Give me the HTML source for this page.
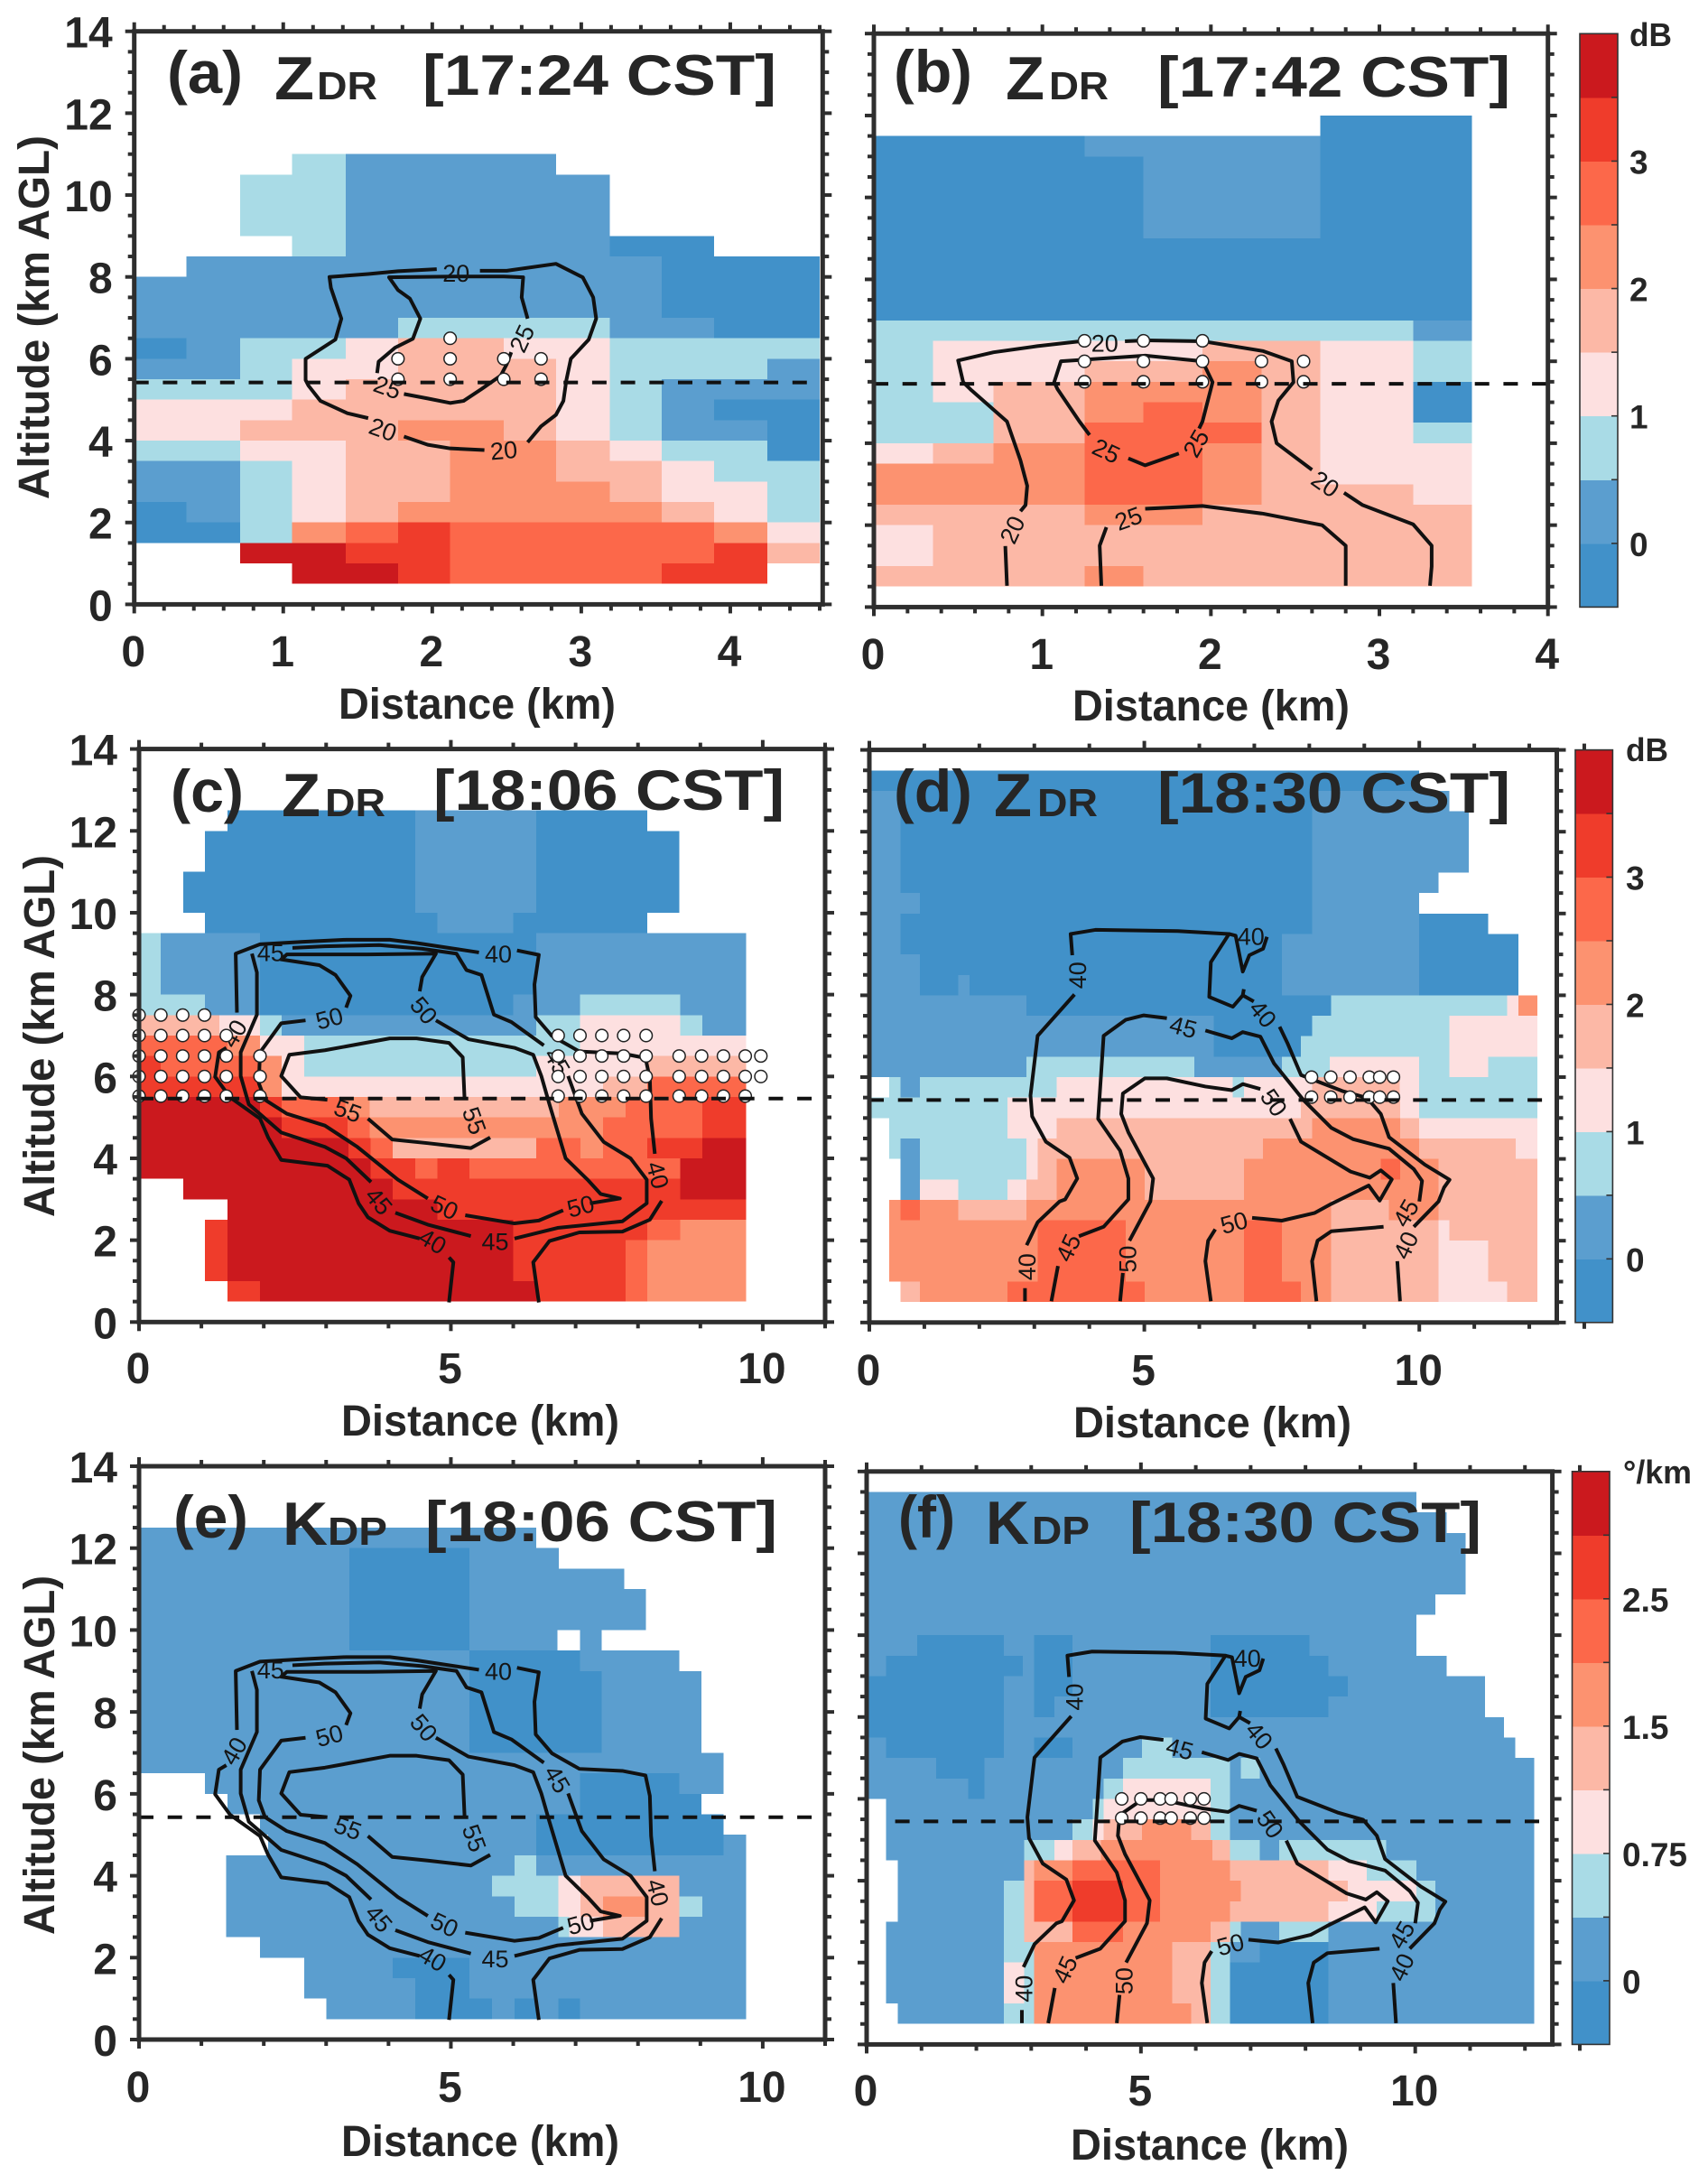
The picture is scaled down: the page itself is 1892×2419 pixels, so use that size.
<!DOCTYPE html>
<html lang="en">
<head>
<meta charset="utf-8">
<title>Radar cross-sections: ZDR and KDP</title>
<style>
html,body{margin:0;padding:0;background:#fff;}
svg{display:block;font-family:"Liberation Sans",Arial,sans-serif;}
.t{font-weight:bold;fill:#262626;}
</style>
</head>
<body>
<svg id="figure" xmlns="http://www.w3.org/2000/svg" width="1892" height="2419" viewBox="0 0 1892 2419">
<rect x="0" y="0" width="1892" height="2419" fill="#fff"/>

<g>
<g id="plot-a"></g>
<text class="t" x="185" y="103" font-size="66" textLength="84" lengthAdjust="spacingAndGlyphs">(a)</text>
<text class="t" x="304" y="110" font-size="68" textLength="44" lengthAdjust="spacingAndGlyphs">Z</text>
<text class="t" x="351" y="110" font-size="44" textLength="67" lengthAdjust="spacingAndGlyphs">DR</text>
<text class="t" x="468" y="105" font-size="63" textLength="392" lengthAdjust="spacingAndGlyphs">[17:24 CST]</text>
<text class="t" x="375" y="796" font-size="48" textLength="307" lengthAdjust="spacingAndGlyphs">Distance (km)</text>
<text class="t" transform="translate(54,553) rotate(-90)" font-size="48" textLength="403" lengthAdjust="spacingAndGlyphs">Altitude (km AGL)</text>
</g>

<g>
<g id="plot-b"></g>
<text class="t" x="990" y="102" font-size="66" textLength="87" lengthAdjust="spacingAndGlyphs">(b)</text>
<text class="t" x="1114" y="110" font-size="68" textLength="43" lengthAdjust="spacingAndGlyphs">Z</text>
<text class="t" x="1162" y="110" font-size="44" textLength="66" lengthAdjust="spacingAndGlyphs">DR</text>
<text class="t" x="1282" y="107" font-size="63" textLength="391" lengthAdjust="spacingAndGlyphs">[17:42 CST]</text>
<text class="t" x="1188" y="798" font-size="48" textLength="307" lengthAdjust="spacingAndGlyphs">Distance (km)</text>
</g>

<g>
<g id="plot-c"></g>
<text class="t" x="189" y="899" font-size="66" textLength="81" lengthAdjust="spacingAndGlyphs">(c)</text>
<text class="t" x="312" y="904" font-size="68" textLength="43" lengthAdjust="spacingAndGlyphs">Z</text>
<text class="t" x="360" y="904" font-size="44" textLength="67" lengthAdjust="spacingAndGlyphs">DR</text>
<text class="t" x="480" y="897" font-size="63" textLength="389" lengthAdjust="spacingAndGlyphs">[18:06 CST]</text>
<text class="t" x="378" y="1590" font-size="48" textLength="308" lengthAdjust="spacingAndGlyphs">Distance (km)</text>
<text class="t" transform="translate(60,1348) rotate(-90)" font-size="48" textLength="401" lengthAdjust="spacingAndGlyphs">Altitude (km AGL)</text>
</g>

<g>
<g id="plot-d"></g>
<text class="t" x="990" y="899" font-size="66" textLength="87" lengthAdjust="spacingAndGlyphs">(d)</text>
<text class="t" x="1101" y="904" font-size="68" textLength="42" lengthAdjust="spacingAndGlyphs">Z</text>
<text class="t" x="1149" y="904" font-size="44" textLength="67" lengthAdjust="spacingAndGlyphs">DR</text>
<text class="t" x="1282" y="900" font-size="63" textLength="391" lengthAdjust="spacingAndGlyphs">[18:30 CST]</text>
<text class="t" x="1189" y="1592" font-size="48" textLength="308" lengthAdjust="spacingAndGlyphs">Distance (km)</text>
</g>

<g>
<g id="plot-e"></g>
<text class="t" x="192" y="1703" font-size="66" textLength="83" lengthAdjust="spacingAndGlyphs">(e)</text>
<text class="t" x="313" y="1711" font-size="68" textLength="50" lengthAdjust="spacingAndGlyphs">K</text>
<text class="t" x="363" y="1711" font-size="44" textLength="66" lengthAdjust="spacingAndGlyphs">DP</text>
<text class="t" x="471" y="1707" font-size="63" textLength="390" lengthAdjust="spacingAndGlyphs">[18:06 CST]</text>
<text class="t" x="378" y="2388" font-size="48" textLength="308" lengthAdjust="spacingAndGlyphs">Distance (km)</text>
<text class="t" transform="translate(60,2143) rotate(-90)" font-size="48" textLength="398" lengthAdjust="spacingAndGlyphs">Altitude (km AGL)</text>
</g>

<g>
<g id="plot-f"></g>
<text class="t" x="995" y="1703" font-size="66" textLength="63" lengthAdjust="spacingAndGlyphs">(f)</text>
<text class="t" x="1092" y="1710" font-size="68" textLength="48" lengthAdjust="spacingAndGlyphs">K</text>
<text class="t" x="1143" y="1710" font-size="44" textLength="64" lengthAdjust="spacingAndGlyphs">DP</text>
<text class="t" x="1251" y="1708" font-size="63" textLength="390" lengthAdjust="spacingAndGlyphs">[18:30 CST]</text>
<text class="t" x="1186" y="2392" font-size="48" textLength="308" lengthAdjust="spacingAndGlyphs">Distance (km)</text>
</g>

<g id="bars"></g>
<text class="t" x="1805" y="51" font-size="36" textLength="47" lengthAdjust="spacingAndGlyphs">dB</text>
<text class="t" x="1801" y="843" font-size="36" textLength="47" lengthAdjust="spacingAndGlyphs">dB</text>
<text class="t" x="1798" y="1643" font-size="36" textLength="76" lengthAdjust="spacingAndGlyphs">°/km</text>
</svg>

<script>
// Colour levels, lowest to highest
const colorLevels = ['#4191c9','#5b9ecf','#a9dbe6','#fde0e0','#fcb8a6','#fc9270','#fc684a','#ef3c2b','#cb191e'];

// Colorbar labels
const zdrBarLabels = ['0','1','2','3'];
const kdpBarLabels = ['0','0.75','1.5','2.5'];
const barLabelBoundary = [1,3,5,7];

// Axis ticks
const altitudeTicks = [0,2,4,6,8,10,12,14];
const distanceTicksA = [0,1,2,3,4];
const distanceTicksB = [0,1,2,3,4];
const distanceTicksWide = [0,5,10];

// Height of the 0 °C level (km)
const meltingLevelA = 5.42;
const meltingLevelB = 5.45;
const meltingLevelC = 5.46;
const meltingLevelD = 5.44;
const meltingLevelE = 5.43;
const meltingLevelF = 5.45;

// Cell rows: [bottom altitude km, x0, level, x1, level, ... xEnd]; level -1 = no echo
const cellsA = [
[10.5,1.06,2,1.42,1,2.83],
[10,.71,2,1.42,1,3.19],
[9.5,.71,2,1.42,1,3.19],
[9,.71,2,1.42,1,3.19],
[8.5,1.06,2,1.42,1,3.19,0,3.89],
[8,.35,1,3.54,0,4.6],
[7.5,0,1,3.54,0,4.6],
[7,0,1,3.54,0,4.6],
[6.5,0,1,1.77,2,3.19,1,3.89,0,4.6],
[6,0,0,.35,1,.71,2,1.42,3,1.77,4,2.48,3,3.19,2,4.6],
[5.5,0,1,.71,2,1.06,3,1.77,4,2.83,3,3.19,2,4.25,1,4.6],
[5,0,2,1.06,3,1.42,4,2.83,3,3.19,2,3.54,1,4.6],
[4.5,0,3,1.06,4,2.83,3,3.19,2,3.54,1,3.89,0,4.6],
[4,0,3,.71,4,1.77,5,2.48,4,2.83,3,3.19,2,3.54,1,4.25,0,4.6],
[3.5,0,2,.71,3,1.42,4,2.12,5,2.83,4,3.19,3,3.54,2,4.25,0,4.6],
[3,0,1,.71,2,1.06,3,1.42,4,2.12,5,2.83,4,3.54,3,3.89,2,4.6],
[2.5,0,1,.71,2,1.06,3,1.42,4,2.12,5,3.19,4,3.54,3,4.25,2,4.6],
[2,0,0,.35,1,.71,2,1.06,3,1.42,4,1.77,5,3.54,4,3.89,3,4.25,2,4.6],
[1.5,0,0,.71,2,1.06,5,1.42,6,1.77,7,2.12,6,3.89,5,4.25,3,4.6],
[1,.71,8,1.42,7,2.12,6,3.89,7,4.25,4,4.6],
[.5,1.06,8,1.77,7,2.12,6,3.54,7,4.25]
];
const cellsB = [
[11.5,2.65,0,3.55],
[11,0,0,1.25,1,2.65,0,3.55],
[10.5,0,0,1.6,1,2.65,0,3.55],
[10,0,0,1.6,1,2.65,0,3.55],
[9.5,0,0,1.6,1,2.65,0,3.55],
[9,0,0,1.6,1,2.65,0,3.55],
[8.5,0,0,3.55],
[8,0,0,3.55],
[7.5,0,0,3.55],
[7,0,0,3.55],
[6.5,0,2,3.2,1,3.55],
[6,0,2,.35,3,1.95,4,2.65,3,3.2,2,3.55],
[5.5,0,2,.35,3,1.25,4,1.95,5,2.3,4,2.65,3,3.2,2,3.55],
[5,0,2,.35,3,.71,4,1.25,5,2.3,4,2.65,3,3.2,0,3.55],
[4.5,0,2,.71,4,1.25,5,1.6,6,1.95,5,2.3,4,2.65,3,3.2,0,3.55],
[4,0,2,.71,4,1.25,6,2.3,4,2.65,3,3.2,2,3.55],
[3.5,0,3,.35,4,.71,5,1.25,6,1.95,5,2.3,4,2.65,3,3.55],
[3,0,5,1.25,6,1.95,5,2.3,4,2.65,3,3.55],
[2.5,0,5,1.25,6,1.95,5,2.3,4,3.2,3,3.55],
[2,0,4,1.25,5,1.95,4,3.55],
[1.5,0,3,.35,4,3.55],
[1,0,3,.35,4,3.55],
[.5,0,4,1.25,5,1.6,4,3.55]
];
const cellsC = [
[12,1.42,0,4.43,1,6.37,0,8.15],
[11.5,1.06,0,4.43,1,6.37,0,8.66],
[11,1.06,0,4.43,1,6.37,0,8.66],
[10.5,.71,0,4.43,1,6.37,0,8.66],
[10,.71,0,4.43,1,6.37,0,8.66],
[9.5,1.06,0,4.78,1,6,0,8.15],
[9,0,2,.35,1,1.94,0,6.37,1,9.73],
[8.5,0,2,.35,1,1.94,0,6.37,1,9.73],
[8,0,2,.35,1,1.94,0,6.37,1,9.73],
[7.5,0,2,1.06,1,1.94,0,6,1,7.07,2,8.68,1,9.73],
[7,0,4,1.29,3,1.94,2,2.29,1,6.37,2,7.07,3,8.68,2,9.03,1,9.73],
[6.5,0,6,1.42,5,1.94,3,2.65,2,7.07,3,9.73],
[6,0,7,.35,6,1.94,5,2.29,3,2.65,2,6.37,3,8.15,4,9.73],
[5.5,0,7,1.94,5,2.29,3,7.44,4,8.15,6,9.73],
[5,0,8,1.94,7,2.29,6,3.31,5,3.7,4,6.73,5,7.8,6,9.03,7,9.73],
[4.5,0,8,2.29,7,3.34,6,3.7,5,7.44,6,9.03,7,9.73],
[4,0,8,3.36,7,3.71,6,4.07,4,6.37,6,7.08,5,7.44,6,8.15,7,9.03,8,9.73],
[3.5,0,8,3.71,7,4.43,6,4.78,7,5.3,6,8.68,8,9.73],
[3,.71,8,4.07,7,8.68,8,9.73],
[2.5,1.42,8,4.78,7,9.73],
[2,1.06,7,1.42,8,6,7,8.15,6,8.68,5,9.73],
[1.5,1.06,7,1.42,8,6,7,7.8,6,8.15,5,9.73],
[1,1.06,7,1.42,8,6,7,7.8,6,8.15,5,9.73],
[.5,1.42,7,1.94,8,6.37,7,7.8,6,8.15,5,9.73]
];
const cellsD = [
[13,0,0,10],
[12.5,0,1,.57,0,8.05,1,10.55],
[12,0,1,.57,0,8.05,1,10.9],
[11.5,0,1,.57,0,8.05,1,10.9],
[11,0,1,.57,0,8.05,1,10.9],
[10.5,0,1,.57,0,8.05,1,10.35],
[10,0,1,.92,0,8.05,1,10],
[9.5,0,1,.57,0,8.05,1,10,0,11.25],
[9,0,1,.57,0,7.5,1,10,0,11.8],
[8.5,0,1,.92,0,7.5,1,10,0,11.8],
[8,0,1,.92,0,1.62,1,1.82,0,7.5,1,10,0,11.8],
[7.5,0,1,2.86,0,8.4,2,11.6,3,11.8,5,12.15],
[7,0,1,6.26,0,8.05,2,10.55,3,12.15],
[6.5,0,1,6.26,0,7.85,2,10.55,3,12.15],
[6,0,1,2.86,2,5.91,1,7.5,2,8.37,3,10,2,10.55,3,11.25,2,12.15],
[5.5,.36,2,.57,1,.92,2,3.41,3,6.61,2,6.81,3,8.05,4,9.64,3,10,2,12.15],
[5,0,2,2.51,3,7.85,4,9.65,3,10,2,12.15],
[4.5,.36,2,2.51,3,3.41,4,8.05,5,9.65,4,10,3,12.15],
[4,.36,2,.57,1,.92,2,2.86,3,3.06,4,7.16,5,10,4,11.75,3,12.15],
[3.5,.57,1,.92,2,2.86,3,3.06,4,3.41,5,5.01,4,6.81,5,9.3,6,9.65,5,10.35,4,12.15],
[3,.57,1,.92,3,1.62,2,2.51,3,2.86,4,3.41,5,5.01,4,6.81,5,10.35,4,12.15],
[2.5,.36,5,.57,6,.92,5,1.62,4,2.86,5,8.4,4,9.45,5,10.35,4,12.15],
[2,.36,5,3.06,6,4.66,5,6.81,6,7.5,5,8.4,4,10.35,3,10.55,4,12.15],
[1.5,.36,5,3.06,6,4.66,5,6.81,6,7.5,5,8.4,4,10.35,3,11.25,4,12.15],
[1,.36,5,3.06,6,4.66,5,6.81,6,7.5,5,8.4,4,10.35,3,11.25,4,12.15],
[.5,.57,4,.92,5,2.51,6,5.01,5,6.81,6,7.85,5,8.4,4,10.35,3,11.6,4,12.15]
];
const cellsE = [
[12,0,1,6.37],
[11.5,0,1,3.37,0,5.3,1,6.73],
[11,0,1,3.37,0,5.3,1,7.78],
[10.5,0,1,3.37,0,5.3,1,8.13],
[10,0,1,3.37,0,5.3,1,8.13],
[9.5,0,1,3.37,0,5.3,1,6.71,-1,7.07,1,7.42],
[9,0,1,5.3,0,7.07,1,8.66],
[8.5,0,1,5.3,0,7.42,1,9.02],
[8,0,1,5.3,0,7.42,1,9.02],
[7.5,0,1,5.3,0,7.42,1,9.02],
[7,0,1,5.3,0,7.42,1,9.02],
[6.5,0,1,9.37],
[6,1.06,1,7.07,0,8.66,1,9.37],
[5.5,1.42,1,7.07,0,9.02],
[5,1.94,1,6.37,0,9.37],
[4.5,2.07,1,6.37,0,9.37,1,9.73],
[4,1.4,1,6.02,2,6.37,1,9.73],
[3.5,1.4,1,5.66,2,6.72,3,7.08,4,8.66,1,9.73],
[3,1.4,1,6.02,2,6.72,3,7.08,4,7.44,5,8.15,4,8.66,2,9.03,1,9.73],
[2.5,1.4,1,6.72,2,6.9,3,7.44,4,8.66,1,9.73],
[2,1.94,1,9.73],
[1.5,2.65,1,4.07,0,5.3,1,9.73],
[1,2.65,1,4.43,0,5.3,1,9.73],
[.5,3,1,4.43,0,5.66,1,6.02,0,6.37,1,6.72,0,7.07,1,9.73]
];
const cellsF = [
[13,0,1,10.02],
[12.5,0,1,10.57],
[12,0,1,10.92],
[11.5,0,1,10.92],
[11,0,1,10.92],
[10.5,0,1,10.37],
[10,0,1,10.02],
[9.5,0,1,.92,0,2.5,1,3.05,0,3.75,1,6.27,0,8.07,1,10.02],
[9,0,1,.35,0,2.85,1,3.05,0,3.75,1,6.27,0,8.42,1,10.57],
[8.5,0,0,2.5,1,3.05,0,3.75,1,6.27,0,8.77,1,11.27],
[8,0,0,2.5,1,3.05,0,3.42,1,6.27,0,8.42,1,11.27],
[7.5,0,0,2.5,1,11.62],
[7,0,1,.35,0,2.5,1,3.05,0,3.75,1,5.02,2,5.57,1,11.82],
[6.5,0,1,1.27,0,2.15,1,4.67,2,6.62,1,6.82,2,7.17,1,12.17],
[6,0,1,1.85,0,2.15,1,4.32,2,4.67,3,6.27,2,6.62,1,12.17],
[5.5,.35,1,4.12,2,4.32,3,6.27,2,6.62,1,12.17],
[5,.35,1,3.75,2,4.12,3,4.32,4,5.02,5,5.92,4,6.27,2,6.62,1,12.17],
[4.5,.35,1,2.87,2,3.42,3,3.75,4,4.27,5,6.3,4,6.62,2,7.17,1,7.52,2,9.47,1,12.17],
[4,.57,1,2.87,4,3.05,5,3.75,6,5.35,5,6.62,4,8.42,3,9.12,2,10.02,1,12.17],
[3.5,.57,1,2.5,2,2.87,4,3.05,6,3.75,7,4.67,6,5.35,5,6.82,4,8.77,3,10.02,2,10.37,1,12.17],
[3,.57,1,2.5,2,2.87,4,3.05,6,3.75,7,4.67,6,5.35,5,6.62,4,8.42,3,9.3,2,10.37,1,12.17],
[2.5,.35,1,2.5,2,2.87,4,3.75,6,4.67,5,6.27,4,6.62,2,6.82,1,7.52,2,8.42,1,12.17],
[2,.35,1,2.5,2,3.05,5,5.57,4,6.27,2,6.62,1,7.17,0,8.42,1,12.17],
[1.5,.35,1,2.5,3,2.87,2,3.05,5,5.57,4,6.27,2,6.62,0,8.42,1,12.17],
[1,.35,1,2.5,3,2.87,2,3.05,5,5.57,4,6.27,2,6.62,0,8.42,1,12.17],
[.5,.57,1,2.5,2,3.05,5,5.92,4,6.27,2,6.62,0,8.42,1,12.17]
];

// Reflectivity contour segments: lists of [distance km, altitude km]
const contoursA = [
[[2.32,8.15],[2.5,8.15],[2.83,8.32],[3.01,7.99],[3.08,7.5],[3.1,6.98],[3.05,6.47],[2.93,6],[2.9,5.48],[2.88,4.97],[2.83,4.63],[2.73,4.35],[2.64,3.96]],
[[2.35,3.77],[2.12,3.81],[1.97,3.9],[1.81,4.1]],
[[1.57,4.55],[1.43,4.67],[1.25,4.97],[1.17,5.34],[1.15,5.48],[1.15,6],[1.35,6.47],[1.39,6.98],[1.32,7.73],[1.31,8],[1.57,8.07],[1.77,8.14],[2.03,8.19]],
[[2.64,6.98],[2.6,7.5],[2.61,7.99],[2.48,8.01],[2.15,8.01],[1.71,7.99],[1.77,7.68],[1.85,7.47],[1.92,6.98],[1.87,6.49],[1.75,6.27],[1.64,5.93],[1.63,5.65]],
[[1.81,5.14],[1.97,5.03],[2.12,4.92],[2.21,4.97],[2.33,5.26],[2.46,5.59],[2.5,5.87],[2.53,6.16]]
];
const contourLabelsA = [['20',2.16,8.1,0],['20',1.67,4.28,20],['20',2.48,3.77,-5],['25',1.7,5.31,20],['25',2.6,6.5,-65]];
const contoursB = [
[[1.49,6.49],[1.61,6.51],[1.95,6.49],[2.31,6.25],[2.48,6],[2.49,5.49],[2.4,5.04],[2.36,4.53],[2.39,4],[2.6,3.35]],
[[2.79,2.79],[2.9,2.49],[3.2,2.02],[3.31,1.5],[3.31,.99],[3.3,.52]],
[[1.25,6.5],[.97,6.37],[.71,6.22],[.5,6.02],[.53,5.49],[.58,5.29],[.79,4.53],[.87,3.58],[.91,2.96],[.9,2.49],[.87,2.34]],
[[.78,1.49],[.79,.52]],
[[1.93,4.36],[1.95,4.53],[2.01,5.49],[1.95,6],[1.61,6.14],[1.11,6],[1.07,5.49],[1.09,5.32],[1.22,4.53],[1.28,4.2]],
[[1.81,3.75],[1.61,3.46],[1.51,3.63]],
[[1.35,.52],[1.34,1.5],[1.38,1.95]],
[[1.61,2.4],[1.95,2.47],[2.31,2.28],[2.66,2],[2.8,1.5],[2.8,.52]]
];
const contourLabelsB = [['20',1.37,6.45,0],['20',2.68,3.01,35],['20',.82,1.89,-65],['25',1.91,4,-60],['25',1.38,3.82,25],['25',1.51,2.17,-20]];
const contoursCE = [
[[6.06,9.08],[6.41,8.97],[6.34,8.25],[6.36,7.45],[6.62,6.99],[7.06,6.61],[7.75,6.56],[8.12,6.45],[8.19,5.95],[8.21,4.97],[8.27,4.11]],
[[8.38,2.96],[8.19,2.5],[7.75,2.21],[7.06,2.19],[6.58,1.98],[6.32,1.46],[6.41,.48]],
[[4.97,.48],[5.04,1.46],[4.97,1.58]],
[[4.5,2.04],[4.02,2.23],[3.67,2.56],[3.52,2.9],[3.37,3.48],[3.02,3.82],[2.28,3.96],[2.07,4.51],[1.94,4.97],[1.46,5.49],[1.22,5.99],[1.28,6.59],[1.4,6.7]],
[[1.57,7.56],[1.55,9],[1.94,9.23],[2.63,9.29],[3.32,9.34],[4.02,9.34],[4.45,9.26],[5.06,9.12],[5.45,9.03]],
[[6.49,6.76],[5.97,7.33],[5.69,7.51],[5.49,8.48],[5.25,8.6],[5.09,9],[4.54,9.12],[3.85,9.21],[2.98,9.18],[2.46,9.14]],
[[1.81,9],[1.89,8.54],[1.89,7.51],[1.63,6.59],[1.63,6.01],[1.76,5.32],[2.28,4.63],[2.98,4.28],[3.32,4],[3.72,3.42]],
[[4.11,2.67],[4.63,2.38],[5.32,2.1]],
[[6.02,2.04],[6.71,2.3],[7.75,2.46],[8.14,2.9],[8.14,3.48],[7.88,4],[7.45,4.4],[7.1,5.09],[6.88,6.01]],
[[4.76,7.37],[5.28,6.91],[6.02,6.7],[6.32,6.53],[6.45,6.01],[6.58,5.32],[6.84,4],[7.19,3.48],[7.4,3.13],[7.71,3.02],[7.23,2.9]],
[[6.8,2.73],[6.41,2.48],[6.02,2.41],[5.23,2.61]],
[[4.63,3.02],[4.15,3.48],[3.5,4.28],[2.98,4.8],[2.37,5.09],[2.02,5.43],[1.92,5.84],[1.94,6.59],[2.28,7.3],[2.67,7.37]],
[[3.32,7.68],[3.39,7.97],[3.15,8.48],[2.89,8.72],[2.28,8.86],[2.37,8.98],[3.67,8.98],[4.76,9],[4.54,8.43],[4.5,8.08]],
[[5.22,5.43],[5.19,6.47],[4.97,6.82],[4.45,6.93],[4.02,6.93],[2.98,6.64],[2.41,6.53],[2.28,6.01],[2.59,5.49],[3.02,5.43]],
[[3.67,4.97],[4.06,4.46],[4.63,4.37],[5.32,4.25],[5.63,4.51]]
];
const contourLabelsCE = [['40',8.32,3.59,75],['40',4.71,1.98,30],['40',1.52,7.05,-60],['40',5.76,9,0],['45',2.11,9.03,0],['45',3.85,2.96,50],['45',5.71,1.98,0],['45',6.71,6.36,60],['50',7.08,2.84,-15],['50',4.9,2.81,25],['50',3.05,7.43,-15],['50',4.57,7.62,50],['55',3.35,5.17,20],['55',5.38,4.92,70]];
const contoursDF = [
[[2.83,.52],[2.83,.84]],
[[2.86,1.89],[3.06,2.45],[3.46,2.96],[3.56,3.01],[3.78,3.52],[3.64,4.03],[3.21,4.42],[2.96,5.04],[2.93,5.55],[3.06,7.01],[3.73,8.02]],
[[3.69,8.98],[3.66,9.5],[4.11,9.6],[5.61,9.57],[6.54,9.5],[6.21,8.81],[6.18,7.96],[6.61,7.72],[6.79,8],[6.81,8.15]],
[[6.79,8],[6.99,7.85]],
[[6.54,9.5],[6.66,9.46],[6.79,8.58],[6.91,8.98],[7.16,9.14],[7.23,9.43]],
[[7.46,7.23],[7.6,6.84],[7.85,6.05],[8.6,5.66],[9.05,5.49],[9.3,5.1],[9.45,4.53],[10.1,3.86],[10.55,3.49],[10.45,3.3],[10.35,2.96],[9.9,2.34]],
[[9.6,1.5],[9.65,.52]],
[[3.31,.52],[3.43,1.38]],
[[3.81,2.11],[4.26,2.34],[4.71,3.01],[4.71,3.52],[4.56,4.2],[4.16,4.98],[4.26,7.01],[4.66,7.4],[4.99,7.51],[5.41,7.44]],
[[6.11,7.14],[6.59,6.95],[6.79,7.1],[7.11,6.99],[7.36,6.33],[7.9,5.43],[8.4,4.76],[8.8,4.48],[9.45,4.25],[9.9,3.75],[10.05,3.46],[10,2.96]],
[[9.35,2.34],[8.4,2.23],[8.15,2],[8.05,1.5],[8.13,.52]],
[[4.56,.52],[4.61,1.21]],
[[4.73,2],[5.11,2.96],[5.16,3.52],[4.71,4.65],[4.58,5.1],[4.61,5.6],[5.01,5.97],[5.41,5.97],[6.11,5.77],[6.59,5.68],[6.79,5.83],[7.11,5.71]],
[[7.65,4.98],[7.85,4.42],[8.75,3.69],[9.1,3.54],[9.3,3.72],[9.5,3.5],[9.28,2.98],[9.08,3.35],[8.75,3.13],[8.4,2.9],[8.1,2.68],[7.5,2.49],[6.96,2.56]],
[[6.29,2.28],[6.16,2],[6.11,1.5],[6.21,.52]]
];
const contourLabelsDF = [['40',2.86,1.36,-90],['40',3.78,8.49,-90],['40',6.94,9.45,0],['40',7.16,7.55,50],['40',9.75,1.89,-65],['45',3.61,1.83,-65],['45',5.71,7.23,15],['45',9.75,2.68,-60],['50',4.69,1.55,-90],['50',7.36,5.38,55],['50',6.63,2.45,-15]];

// Marked grid points (white circles): [distance km, altitude km]
const dotsA = [[1.77,6],[1.77,5.5],[2.12,6.5],[2.12,6],[2.12,5.5],[2.48,6],[2.48,5.5],[2.73,6],[2.73,5.5]];
const dotsB = [[1.25,6.5],[1.6,6.5],[1.95,6.5],[1.25,6],[1.6,6],[1.95,6],[2.3,6],[2.55,6],[1.25,5.5],[1.6,5.5],[1.95,5.5],[2.3,5.5],[2.55,5.5]];
const dotsC = [
[0,7.5],[.35,7.5],[.7,7.5],[1.05,7.5],
[0,7],[.35,7],[.7,7],[1.05,7],[1.4,7],
[0,6.5],[.35,6.5],[.7,6.5],[1.05,6.5],[1.4,6.5],[1.94,6.5],
[0,6],[.35,6],[.7,6],[1.05,6],[1.4,6],[1.94,6],
[0,5.52],[.35,5.52],[.7,5.52],[1.05,5.52],[1.4,5.52],[1.94,5.52],
[6.72,7],[7.07,7],[7.42,7],[7.77,7],[8.13,7],
[6.72,6.5],[7.07,6.5],[7.42,6.5],[7.77,6.5],[8.13,6.5],[8.66,6.5],[9.02,6.5],[9.37,6.5],[9.72,6.5],[9.97,6.5],
[6.72,6],[7.07,6],[7.42,6],[7.77,6],[8.13,6],[8.66,6],[9.02,6],[9.37,6],[9.72,6],[9.97,6],
[6.72,5.52],[7.07,5.52],[7.42,5.52],[7.77,5.52],[8.13,5.52],[8.66,5.52],[9.02,5.52],[9.37,5.52],[9.72,5.52]
];
const dotsD = [[8.04,6],[8.39,6],[8.74,6],[9.09,6],[9.28,6],[9.53,6],[8.04,5.51],[8.39,5.51],[8.74,5.51],[9.09,5.51],[9.28,5.51],[9.53,5.51]];
const dotsE = [];
const dotsF = [[4.65,6],[5,6],[5.35,6],[5.55,6],[5.9,6],[6.15,6],[4.65,5.53],[5,5.53],[5.35,5.53],[5.55,5.53],[5.9,5.53],[6.15,5.53]];

const NS = 'http://www.w3.org/2000/svg';
const INK = '#2e2e2e';
function add(parent, tag, attrs, txt) {
  const n = document.createElementNS(NS, tag);
  for (const k in attrs) n.setAttribute(k, attrs[k]);
  if (txt !== undefined) n.textContent = txt;
  parent.appendChild(n);
  return n;
}
const panels = [
 {id:'a',l:148.7,r:911.3,t:34.7,b:669.4,xMax:4.62,xTicks:distanceTicksA,minor:.2,cells:cellsA,lines:contoursA,labels:contourLabelsA,dots:dotsA,melt:meltingLevelA,meltFrom:0,meltTo:4.6,tickY:738,yLabels:true},
 {id:'b',l:968,r:1714.7,t:37.2,b:672.4,xMax:4,xTicks:distanceTicksB,minor:.2,cells:cellsB,lines:contoursB,labels:contourLabelsB,dots:dotsB,melt:meltingLevelB,meltFrom:0,meltTo:4,tickY:741,yLabels:false},
 {id:'c',l:154,r:914,t:829.6,b:1464.3,xMax:11,xTicks:distanceTicksWide,minor:1,cells:cellsC,lines:contoursCE,labels:contourLabelsCE,dots:dotsC,melt:meltingLevelC,meltFrom:0,meltTo:10.83,tickY:1532,yLabels:true},
 {id:'d',l:963,r:1724.5,t:830.6,b:1464.8,xMax:12.5,xTicks:distanceTicksWide,minor:1,cells:cellsD,lines:contoursDF,labels:contourLabelsDF,dots:dotsD,melt:meltingLevelD,meltFrom:0,meltTo:12.3,tickY:1534,yLabels:false},
 {id:'e',l:154,r:914,t:1624,b:2259,xMax:11,xTicks:distanceTicksWide,minor:1,cells:cellsE,lines:contoursCE,labels:contourLabelsCE,dots:dotsE,melt:meltingLevelE,meltFrom:0,meltTo:10.83,tickY:2328,yLabels:true},
 {id:'f',l:960,r:1719.6,t:1629.8,b:2264.4,xMax:12.5,xTicks:distanceTicksWide,minor:1,cells:cellsF,lines:contoursDF,labels:contourLabelsDF,dots:dotsF,melt:meltingLevelF,meltFrom:.52,meltTo:12.3,tickY:2332,yLabels:false}
];
panels.forEach(function (p) {
  const g = document.getElementById('plot-' + p.id);
  const sx = function (km) { return p.l + km / p.xMax * (p.r - p.l); };
  const sy = function (alt) { return p.b - alt / 14 * (p.b - p.t); };

  p.cells.forEach(function (row) {
    const alt = row[0];
    for (let i = 1; i + 2 < row.length; i += 2) {
      const lvl = row[i + 1];
      if (lvl < 0) continue;
      const cell = add(g, 'rect', {x: sx(row[i]), y: sy(alt + .5), width: sx(row[i + 2]) - sx(row[i]), height: sy(alt) - sy(alt + .5), fill: colorLevels[lvl], 'shape-rendering': 'crispEdges'});
      
      
    }
  });

  p.lines.forEach(function (seg) {
    const line = add(g, 'polyline', {points: seg.map(function (q) { return sx(q[0]) + ',' + sy(q[1]); }).join(' '), fill: 'none', stroke: '#111', 'stroke-width': 4, 'stroke-linejoin': 'round', 'stroke-linecap': 'butt'});
    
    
  });
  p.labels.forEach(function (lb) {
    const x = sx(lb[1]), y = sy(lb[2]);
    const tx = add(g, 'text', {x: x, y: y, dy: '.36em', 'font-size': 27, 'text-anchor': 'middle', fill: '#151515', transform: 'rotate(' + lb[3] + ' ' + x + ' ' + y + ')'}, lb[0]);
    
    
  });

  p.dots.forEach(function (d) {
    const dot = add(g, 'circle', {cx: sx(d[0]), cy: sy(d[1]), r: 6.8, fill: '#fff', stroke: '#222', 'stroke-width': 1.5});
    
    
  });

  const melt = add(g, 'line', {x1: sx(p.meltFrom), x2: sx(p.meltTo), y1: sy(p.melt), y2: sy(p.melt), stroke: '#111', 'stroke-width': 4, 'stroke-dasharray': '16 15.7'});
  
  

  const box = add(g, 'rect', {x: p.l, y: p.t, width: p.r - p.l, height: p.b - p.t, fill: 'none', stroke: INK, 'stroke-width': 5});
  
  

  // minor and major ticks on all four sides
  const steps = Math.round(p.xMax / p.minor);
  for (let k = 0; k <= steps; k++) {
    const v = k * p.minor;
    const isMajor = p.xTicks.some(function (m) { return Math.abs(m - v) < 1e-6; });
    const len = isMajor ? 10 : 7;
    const tb = add(g, 'line', {x1: sx(v), x2: sx(v), y1: p.b, y2: p.b + len, stroke: INK, 'stroke-width': 4});
    
    
    const tt = add(g, 'line', {x1: sx(v), x2: sx(v), y1: p.t, y2: p.t - len, stroke: INK, 'stroke-width': 4});
    
    
  }
  for (let k = 0; k <= 28; k++) {
    const a = k * .5;
    const len = k % 4 === 0 ? 10 : 7;
    const tl = add(g, 'line', {x1: p.l, x2: p.l - len, y1: sy(a), y2: sy(a), stroke: INK, 'stroke-width': 4});
    
    
    const tr = add(g, 'line', {x1: p.r, x2: p.r + len, y1: sy(a), y2: sy(a), stroke: INK, 'stroke-width': 4});
    
    
  }

  p.xTicks.forEach(function (v) {
    const lab = add(g, 'text', {x: sx(v) - 1, y: p.tickY, 'font-size': 48, 'font-weight': 'bold', 'text-anchor': 'middle', fill: '#262626'}, String(v));
    
    
  });
  if (p.yLabels) {
    altitudeTicks.forEach(function (v) {
      const lab = add(g, 'text', {x: p.l - 24, y: sy(v) + 18, 'font-size': 48, 'font-weight': 'bold', 'text-anchor': 'end', fill: '#262626'}, String(v));
      
      
    });
  }
});

const bars = [
 {l:1750,r:1792,t:37.3,b:672.4,labels:zdrBarLabels,lx:1805},
 {l:1745,r:1786.4,t:830.6,b:1464.8,labels:zdrBarLabels,lx:1801},
 {l:1741.5,r:1783,t:1629.8,b:2264.4,labels:kdpBarLabels,lx:1797}
];
const barsGroup = document.getElementById('bars');
bars.forEach(function (b) {
  const h = (b.b - b.t) / colorLevels.length;
  colorLevels.forEach(function (c, i) {
    const seg = add(barsGroup, 'rect', {x: b.l, y: b.b - (i + 1) * h, width: b.r - b.l, height: h + .5, fill: c, 'shape-rendering': 'crispEdges'});
    
    
    if (i > 0) {
      const mk = add(barsGroup, 'line', {x1: b.r - 7, x2: b.r, y1: b.b - i * h, y2: b.b - i * h, stroke: '#333', 'stroke-width': 1.6});
      
      
    }
  });
  const frame = add(barsGroup, 'rect', {x: b.l, y: b.t, width: b.r - b.l, height: b.b - b.t, fill: 'none', stroke: '#333', 'stroke-width': 1.6});
  
  
  b.labels.forEach(function (txt, i) {
    const lab = add(barsGroup, 'text', {x: b.lx, y: b.b - barLabelBoundary[i] * h + 14, 'font-size': 37, 'font-weight': 'bold', fill: '#262626'}, txt);
    
    
  });
});
</script>
</body>
</html>
